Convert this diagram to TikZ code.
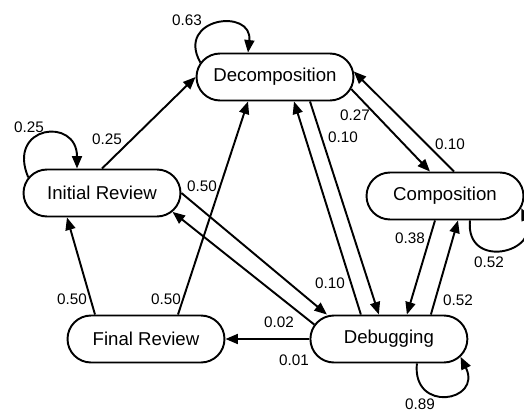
\documentclass[tikz,border=0pt]{standalone}
\usepackage{fontspec}
\setmainfont{Liberation Sans}
\usetikzlibrary{calc,arrows.meta,shapes.misc,positioning}

\begin{document}
\begin{tikzpicture}[x=0.02cm,y=-0.02cm,line width=1.1pt,>={Triangle[length=0.25cm,width=0.2cm]}]

\tikzset{statenode/.style={shape=rounded rectangle,draw=black,fill=white,inner sep=0pt,minimum width=3.14cm,minimum height=0.94cm,font=\fontsize{10.6}{12}\selectfont},
problabel/.style={font=\fontsize{8.7}{10}\selectfont,inner sep=0pt}}

\useasboundingbox (0,0) rectangle (524,412);

% States
\node[statenode] (dec) at (275,77) {Decomposition};
\node[statenode] (ir) at (102,193) {Initial Review};
\node[statenode] (comp) at (445,196) {Composition};
\node[statenode] (fr) at (146,339) {Final Review};
\node[statenode,right=1.68cm of fr] (deb) {Debugging};

% Self loops
\draw[->] (dec.169) .. controls +(-25,-45) and +(5,-45) .. ($(dec.north)+(-27,0)$);
\draw[->] (ir.168) .. controls +(-22,-52) and +(0,-52) .. ($(ir.north)+(-25,0)$);
\draw[->] ($(comp.south)+(25,0)$) .. controls +(-5,50) and +(20,45) .. (comp.-9);
\draw[->] ($(deb.south)+(28,0)$) .. controls +(-5,50) and +(22,45) .. (deb.-14);

% Transitions
\draw[->] (ir.north) -- (dec.west);
\draw[->] ($(fr.north)+(32,0)$) -- ($(dec.south)+(-27,0)$);
\draw[->] ($(fr.north)+(-51,0)$) -- ($(ir.south)+(-35,0)$);
\draw[->] (ir.east) -- ($(deb.north)+(-62,0)$);
\draw[->] (deb.169) -- (ir.-15);
\draw[->] (deb.west) -- (fr.east);
\draw[->] ($(deb.north)+(-28,0)$) -- ($(dec.south)+(19,0)$);
\draw[->] ($(dec.south)+(35,0)$) -- ($(deb.north)+(-10,0)$);
\draw[->] (dec.-9) -- ($(comp.north)+(-15,0)$);
\draw[->] ($(comp.north)+(9,0)$) -- (dec.4);
\draw[->] ($(comp.south)+(-10,0)$) -- ($(deb.north)+(18,0)$);
\draw[->] ($(deb.north)+(42,0)$) -- ($(comp.south)+(13,0)$);

% Probabilities
\foreach \x/\y/\p/\n in {187/20/0.63/pDec, 29/127/0.25/pIr, 107/139/0.25/pIrDec, 202/186/0.50/pIrDeb,
  355/115/0.27/pDecComp, 343/137/0.10/pDecDeb, 450/144/0.10/pCompDec, 410/238/0.38/pCompDeb,
  489/262/0.52/pComp, 330/283/0.10/pDebDec, 458/300/0.52/pDebComp, 72/299/0.50/pFrIr,
  166/299/0.50/pFrDec, 279/322/0.02/pDebIr, 294/360/0.01/pDebFr, 420/404/0.89/pDeb}
  \node[problabel] (\n) at (\x,\y) {\p};

\end{tikzpicture}
\end{document}
